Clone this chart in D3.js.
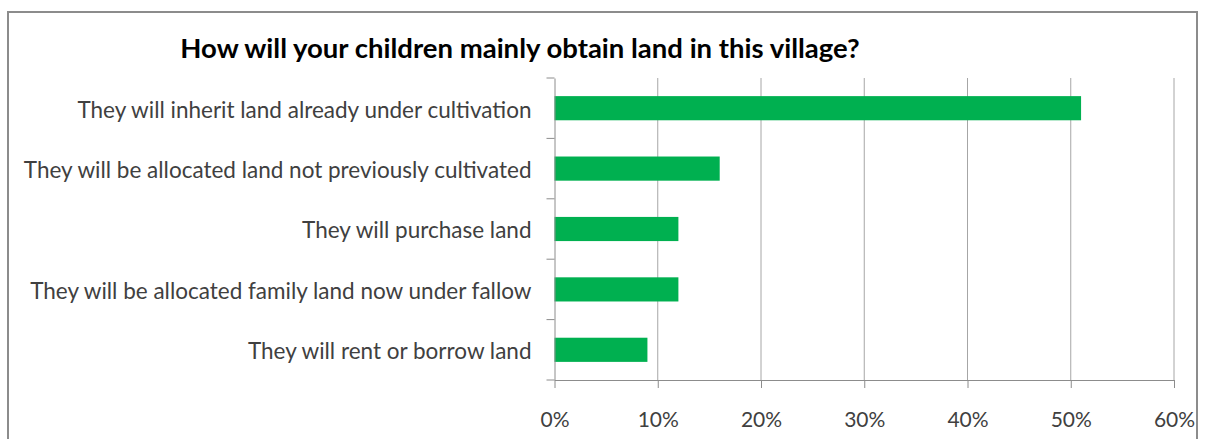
<!DOCTYPE html>
<html>
<head>
<meta charset="utf-8">
<script src="https://cdn.jsdelivr.net/npm/d3@7"></script>
<style>
  body { margin: 0; background: #fff; }
  text { font-family: Lato, "Open Sans", sans-serif; }
</style>
</head>
<body>
<div id="chart"></div>
<script>
// Données
const categories = [
  "They will inherit land already under cultivation",
  "They will be allocated land not previously cultivated",
  "They will purchase land",
  "They will be allocated family land now under fallow",
  "They will rent or borrow land"
];
const values = [51, 16, 12, 12, 9];
const xTicks = [0, 10, 20, 30, 40, 50, 60];
const title = "How will your children mainly obtain land in this village?";

const W = 1205, H = 439;
const svg = d3.select("#chart").append("svg")
    .attr("width", W)
    .attr("height", H);

// Cadre extérieur
svg.append("rect")
    .attr("x", 8).attr("y", 12)
    .attr("width", 1189).attr("height", 440)
    .attr("fill", "#fff")
    .attr("stroke", "#8c8c8c")
    .attr("stroke-width", 2);

const x = d3.scaleLinear().domain([0, 60]).range([554.5, 1174]);
const y = d3.scaleBand().domain(categories).range([78, 380]).padding(0);

// Grille verticale
svg.append("g")
    .selectAll("line")
    .data(xTicks.slice(1))
    .join("line")
    .attr("x1", d => x(d)).attr("x2", d => x(d))
    .attr("y1", 78).attr("y2", 380)
    .attr("stroke", "#a6a6a6")
    .attr("stroke-width", 1);

// Barres
const barH = y.bandwidth() * 0.4;
svg.append("g")
    .selectAll("rect")
    .data(values)
    .join("rect")
    .attr("x", x(0))
    .attr("y", (d, i) => y(categories[i]) + (y.bandwidth() - barH) / 2)
    .attr("width", d => x(d) - x(0))
    .attr("height", barH)
    .attr("fill", "#00b050");

// Axe vertical
const yAxis = svg.append("g")
    .attr("transform", `translate(${x(0)},0)`)
    .call(d3.axisLeft(y).tickSizeInner(0).tickSizeOuter(0).tickPadding(23));
yAxis.select(".domain").attr("stroke", "#8c8c8c");
yAxis.selectAll("text")
    .attr("font-size", 22.5)
    .attr("dy", "0.42em")
    .attr("fill", "#404040")
    .style("font-family", "Lato, sans-serif");
// petites graduations entre les catégories
yAxis.selectAll(".sep")
    .data(d3.range(categories.length + 1))
    .join("line")
    .attr("class", "sep")
    .attr("x1", -8).attr("x2", 0)
    .attr("y1", i => 78 + i * y.step())
    .attr("y2", i => 78 + i * y.step())
    .attr("stroke", "#8c8c8c");

// Axe horizontal
const xAxis = svg.append("g")
    .attr("transform", `translate(0,380)`)
    .call(d3.axisBottom(x).tickValues(xTicks).tickFormat(d => d + "%").tickSize(8).tickSizeOuter(0).tickPadding(24));
xAxis.select(".domain").attr("stroke", "#8c8c8c");
xAxis.selectAll(".tick line").attr("stroke", "#8c8c8c");
xAxis.selectAll("text")
    .attr("font-size", 21)
    .attr("fill", "#404040")
    .style("font-family", "Lato, sans-serif");

// Titre
svg.append("text")
    .attr("x", 520)
    .attr("y", 58)
    .attr("text-anchor", "middle")
    .attr("font-size", 27.5)
    .attr("font-weight", "bold")
    .attr("fill", "#000")
    .text(title);
</script>
</body>
</html>
